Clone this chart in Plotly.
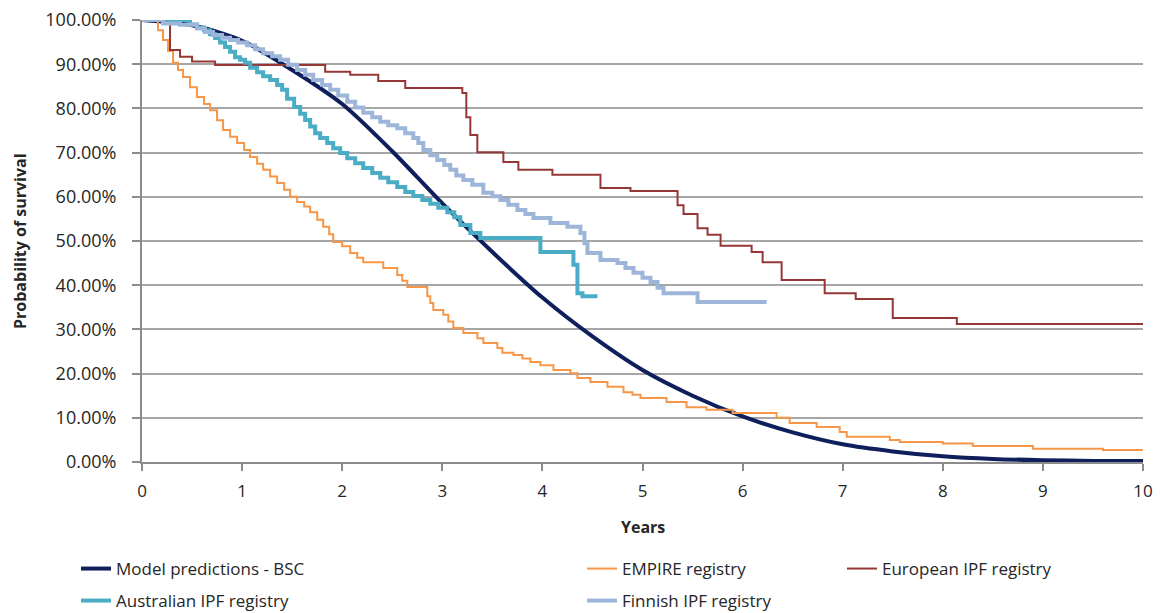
import plotly.graph_objects as go

# ---- Model predictions (best supportive care), smooth curve ----
model_years = [0, 0.5, 1, 1.5, 2, 2.5, 3, 3.5, 4, 4.5, 5, 5.5, 6, 6.5, 7, 7.5, 8, 8.5, 9, 9.5, 10]
model_surv = [100, 98.8, 95.3, 88.7, 81.0, 70.3, 58.5, 47.5, 37.2, 28.4, 20.8, 15.0, 10.3, 6.7, 4.0, 2.4, 1.3, 0.7, 0.4, 0.25, 0.2]

# ---- EMPIRE registry (Kaplan-Meier steps) ----
empire_years = [0, 0.16, 0.21, 0.26, 0.31, 0.36, 0.41, 0.48, 0.55, 0.62, 0.68, 0.75, 0.81, 0.88,
                0.95, 1.02, 1.08, 1.15, 1.21, 1.28, 1.35, 1.42, 1.48, 1.55, 1.62, 1.68, 1.75, 1.81,
                1.87, 1.91, 2.0, 2.08, 2.15, 2.21, 2.41, 2.55, 2.6, 2.65, 2.85, 2.88, 2.91, 3.01,
                3.06, 3.11, 3.21, 3.35, 3.41, 3.55, 3.6, 3.71, 3.8, 3.88, 3.98, 4.11, 4.28, 4.35,
                4.48, 4.65, 4.81, 4.9, 4.98, 5.24, 5.44, 5.64, 5.9, 6.34, 6.47, 6.74, 6.97, 7.04,
                7.47, 7.57, 8.0, 8.3, 8.9, 9.6, 10]
empire_surv = [100, 97.7, 95.5, 93.0, 90.3, 88.7, 87.1, 84.8, 82.6, 81.0, 79.6, 77.3, 75.1, 73.6,
               72.2, 70.6, 69.0, 67.5, 66.1, 64.6, 63.1, 61.6, 60.0, 58.8, 57.8, 56.5, 54.8, 53.2,
               51.5, 49.8, 48.8, 47.3, 46.2, 45.2, 43.9, 42.3, 41.0, 39.6, 37.5, 36.0, 34.4, 33.3,
               31.8, 30.3, 29.2, 28.0, 26.9, 25.8, 24.7, 24.2, 23.4, 22.6, 21.9, 20.8, 20.1, 19.0,
               18.1, 17.0, 15.8, 15.2, 14.5, 13.6, 12.4, 11.8, 11.1, 10.0, 8.8, 7.9, 6.8, 5.7,
               5.0, 4.5, 4.2, 3.6, 3.0, 2.7, 2.5]

# ---- European IPF registry ----
euro_years = [0, 0.28, 0.38, 0.5, 0.73, 1.83, 2.08, 2.36, 2.63, 3.2, 3.24, 3.28, 3.35, 3.61, 3.76,
              4.1, 4.58, 4.88, 5.35, 5.41, 5.55, 5.65, 5.78, 6.09, 6.2, 6.39, 6.82, 7.13, 7.5,
              8.14, 10]
euro_surv = [100, 93.2, 91.7, 90.6, 89.8, 88.3, 87.6, 86.2, 84.6, 83.5, 78.0, 74.0, 70.1, 67.9, 66.1,
             65.0, 62.0, 61.3, 58.1, 56.1, 52.9, 51.4, 48.9, 47.5, 45.2, 41.2, 38.2, 36.9, 32.6,
             31.2, 31.2]

# ---- Australian IPF registry ----
aus_years = [0, 0.48, 0.55, 0.62, 0.68, 0.73, 0.78, 0.83, 0.88, 0.93, 0.98, 1.03, 1.08, 1.15, 1.21,
             1.28, 1.35, 1.4, 1.45, 1.52, 1.58, 1.63, 1.68, 1.73, 1.78, 1.85, 1.91, 1.98, 2.05,
             2.13, 2.21, 2.3, 2.38, 2.46, 2.55, 2.63, 2.71, 2.8, 2.88, 2.96, 3.05, 3.12, 3.18,
             3.28, 3.38, 3.48, 3.98, 4.31, 4.35, 4.4, 4.55]
aus_surv = [100, 99.0, 98.3, 97.7, 96.8, 95.9, 94.9, 93.9, 92.8, 91.6, 91.0, 90.3, 89.2, 88.2, 87.3,
            86.4, 85.3, 84.2, 82.2, 80.3, 78.8, 77.4, 75.9, 74.4, 73.3, 72.2, 71.0, 69.9, 68.7,
            67.6, 66.5, 65.4, 64.3, 63.3, 62.2, 61.1, 60.2, 59.3, 58.4, 57.5, 56.5, 55.4, 53.6,
            51.8, 50.7, 50.7, 47.5, 44.6, 38.2, 37.5, 37.5]

# ---- Finnish IPF registry ----
fin_years = [0, 0.21, 0.38, 0.55, 0.63, 0.71, 0.8, 0.88, 0.96, 1.05, 1.13, 1.21, 1.3, 1.38, 1.46,
             1.55, 1.63, 1.71, 1.8, 1.88, 1.96, 2.05, 2.13, 2.21, 2.3, 2.38, 2.46, 2.55, 2.63,
             2.71, 2.76, 2.81, 2.88, 2.95, 3.02, 3.08, 3.14, 3.21, 3.3, 3.41, 3.5, 3.58, 3.66,
             3.75, 3.83, 3.91, 4.08, 4.25, 4.38, 4.42, 4.45, 4.58, 4.75, 4.83, 4.91, 5.0, 5.08,
             5.15, 5.21, 5.55, 6.24]
fin_surv = [100, 99.2, 98.9, 98.1, 97.3, 96.6, 96.0, 95.5, 94.9, 94.3, 93.4, 92.5, 91.8, 91.0, 89.9,
            88.7, 87.6, 86.4, 85.3, 84.2, 82.9, 81.5, 80.2, 79.0, 78.0, 77.0, 76.2, 75.5, 74.4,
            73.3, 72.2, 70.6, 69.4, 68.3, 67.2, 66.1, 64.8, 63.8, 62.7, 60.9, 60.1, 59.3, 58.2,
            57.0, 56.1, 55.2, 54.1, 53.2, 51.8, 49.5, 47.3, 45.7, 45.0, 43.9, 42.8, 41.7, 40.7,
            39.4, 38.2, 36.2, 36.2]

x_ticks = list(range(0, 11))
y_ticks = list(range(0, 101, 10))

FONT = "Open Sans, Lato, sans-serif"
GRID = "#a6a6a6"
AXIS = "#8c8c8c"
TEXT = "#262626"

W, H = 1160, 613

fig = go.Figure()

fig.add_trace(go.Scatter(x=model_years, y=model_surv, mode="lines", name="Model predictions - BSC",
                         line=dict(color="#0f1f5c", width=4, shape="spline", smoothing=0.8),
                         legend="legend"))
fig.add_trace(go.Scatter(x=empire_years, y=empire_surv, mode="lines", name="EMPIRE registry",
                         line=dict(color="#f79646", width=2, shape="hv"), legend="legend2"))
fig.add_trace(go.Scatter(x=euro_years, y=euro_surv, mode="lines", name="European IPF registry",
                         line=dict(color="#953735", width=2, shape="hv"), legend="legend3"))
fig.add_trace(go.Scatter(x=aus_years, y=aus_surv, mode="lines", name="Australian IPF registry",
                         line=dict(color="#4bacc6", width=4, shape="hv"), legend="legend4"))
fig.add_trace(go.Scatter(x=fin_years, y=fin_surv, mode="lines", name="Finnish IPF registry",
                         line=dict(color="#9db5d8", width=4, shape="hv"), legend="legend5"))

leg_font = dict(family=FONT, size=17, color=TEXT)

def leg(px, py):
    # legend boxes placed in container pixels; margins are fixed (autoexpand off)
    return dict(x=px / W, y=1 - py / H, xref="container", yref="container",
                xanchor="left", yanchor="middle", orientation="v",
                font=leg_font, bgcolor="rgba(0,0,0,0)", borderwidth=0,
                itemwidth=30, tracegroupgap=0)

fig.update_layout(
    width=W, height=H,
    margin=dict(l=142, r=17, t=20, b=151, autoexpand=False),
    paper_bgcolor="white", plot_bgcolor="white",
    font=dict(family=FONT, size=17, color=TEXT),
    showlegend=True,
    legend=leg(76, 569),
    legend2=leg(582, 569),
    legend3=leg(842, 569),
    legend4=leg(76, 601),
    legend5=leg(582, 601),
    xaxis=dict(range=[0, 10], tickvals=x_ticks, ticktext=[str(v) for v in x_ticks],
               showgrid=False, zeroline=False, showline=True, linecolor=AXIS, linewidth=2,
               ticks="outside", ticklen=7, tickwidth=2, tickcolor=AXIS,
               ticklabelstandoff=6,
               tickfont=dict(family=FONT, size=17, color=TEXT)),
    yaxis=dict(range=[0, 100], tickvals=y_ticks, ticktext=[f"{v:.2f}%" for v in y_ticks],
               showgrid=True, gridcolor=GRID, gridwidth=2, zeroline=False,
               showline=True, linecolor=AXIS, linewidth=2,
               ticks="outside", ticklen=8, tickwidth=2, tickcolor=AXIS,
               ticklabelstandoff=12,
               tickfont=dict(family=FONT, size=18, color=TEXT)),
    annotations=[
        dict(text="<b>Years</b>", xref="paper", yref="paper", x=0.5, y=(462 - 527) / 442.0,
             xanchor="center", yanchor="middle", showarrow=False,
             font=dict(family=FONT, size=16, color=TEXT)),
        dict(text="<b>Probability of survival</b>", xref="paper", yref="paper",
             x=(20 - 142) / 1001.0, y=(462 - 241) / 442.0, textangle=-90,
             xanchor="center", yanchor="middle", showarrow=False,
             font=dict(family=FONT, size=16, color=TEXT)),
    ],
)

fig.write_html("out.html")
